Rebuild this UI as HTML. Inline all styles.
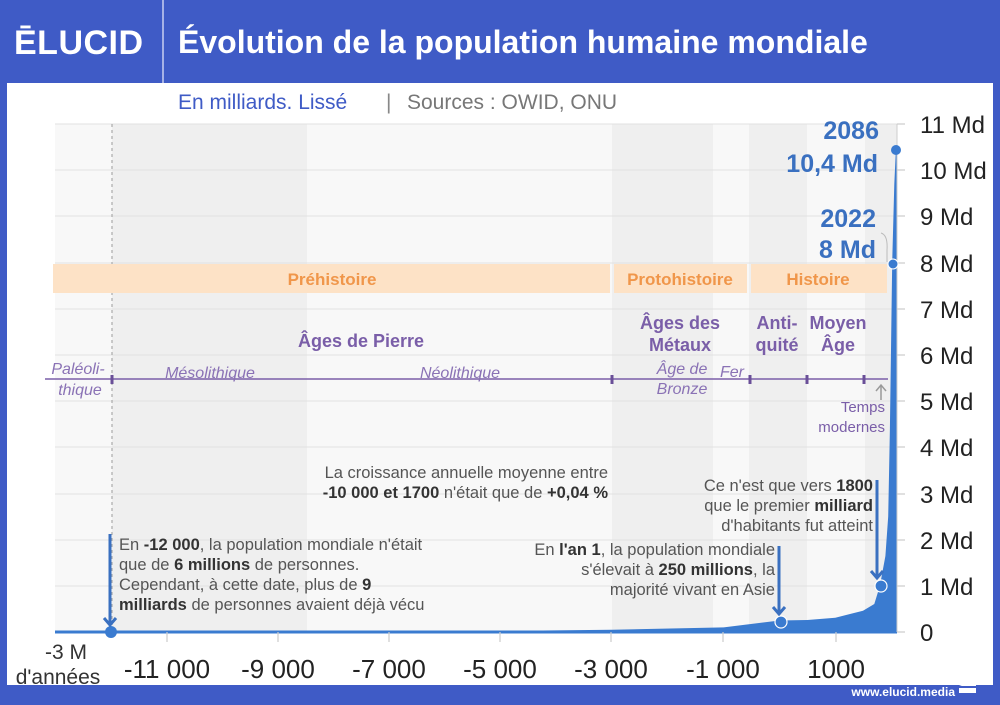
<!DOCTYPE html>
<html><head><meta charset="utf-8"><style>
html,body{margin:0;padding:0;background:#3f5bc6;}
body{width:1000px;height:700px;overflow:hidden;font-family:"Liberation Sans",sans-serif;}
</style></head><body>
<svg width="1000" height="700" viewBox="0 0 1000 700" xmlns="http://www.w3.org/2000/svg" font-family="Liberation Sans, sans-serif">
<rect x="0" y="0" width="1000" height="700" fill="#3f5bc6"/>
<rect x="7" y="83" width="986" height="602" fill="#ffffff"/>
<line x1="163" y1="0" x2="163" y2="83" stroke="#c8d0f0" stroke-width="1.5"/>
<text x="14" y="54" fill="#fff" font-size="34" font-weight="bold" letter-spacing="0.5">ĒLUCID</text>
<text x="178" y="53" fill="#fff" font-size="32" font-weight="bold">Évolution de la population humaine mondiale</text>
<text x="178" y="109" fill="#3f5bc6" font-size="21">En milliards. Lissé</text>
<text x="386" y="109" fill="#888" font-size="21">|</text>
<text x="407" y="109" fill="#777" font-size="21">Sources : OWID, ONU</text>
<!-- bg -->
<rect x="55" y="124" width="842" height="508" fill="#f8f8f8"/>
<rect x="112" y="124" width="195" height="508" fill="#efefef"/>
<rect x="612" y="124" width="101" height="508" fill="#efefef"/>
<rect x="749" y="124" width="58" height="508" fill="#efefef"/>
<rect x="865" y="124" width="32" height="508" fill="#efefef"/>
<g stroke="#e2e2e2" stroke-width="1">
<line x1="55" y1="124" x2="897" y2="124"/><line x1="55" y1="170" x2="897" y2="170"/><line x1="55" y1="216" x2="897" y2="216"/><line x1="55" y1="263" x2="897" y2="263"/><line x1="55" y1="309" x2="897" y2="309"/><line x1="55" y1="355" x2="897" y2="355"/><line x1="55" y1="401" x2="897" y2="401"/><line x1="55" y1="447" x2="897" y2="447"/><line x1="55" y1="494" x2="897" y2="494"/><line x1="55" y1="540" x2="897" y2="540"/><line x1="55" y1="586" x2="897" y2="586"/>
</g>
<line x1="112" y1="124" x2="112" y2="632" stroke="#aaa" stroke-width="1.2" stroke-dasharray="3,3"/>
<!-- orange band -->
<rect x="53" y="264" width="557" height="29" fill="#fde2c6"/>
<rect x="614" y="264" width="133" height="29" fill="#fde2c6"/>
<rect x="751" y="264" width="136" height="29" fill="#fde2c6"/>
<g fill="#f0964a" font-size="17" font-weight="bold" text-anchor="middle">
<text x="332" y="285">Préhistoire</text><text x="680" y="285">Protohistoire</text><text x="818" y="285">Histoire</text></g>
<!-- purple timeline -->
<line x1="45" y1="379" x2="888" y2="379" stroke="#7a5ea8" stroke-width="1.5"/>
<g stroke="#6a4f98" stroke-width="3"><line x1="112" y1="375" x2="112" y2="384"/><line x1="612" y1="375" x2="612" y2="384"/><line x1="750" y1="375" x2="750" y2="384"/><line x1="807" y1="375" x2="807" y2="384"/><line x1="864" y1="375" x2="864" y2="384"/></g>
<g fill="#7a5ea8" font-size="18" font-weight="bold" text-anchor="middle">
<text x="361" y="347">Âges de Pierre</text>
<text x="680" y="329">Âges des</text><text x="680" y="351">Métaux</text>
<text x="777" y="329">Anti-</text><text x="777" y="351">quité</text>
<text x="838" y="329">Moyen</text><text x="838" y="351">Âge</text>
</g>
<g fill="#8a72b5" font-size="16" font-style="italic" text-anchor="middle">
<text x="78" y="374">Paléoli-</text><text x="80" y="395">thique</text>
<text x="210" y="378">Mésolithique</text><text x="460" y="378">Néolithique</text>
<text x="682" y="374">Âge de</text><text x="682" y="394">Bronze</text><text x="732" y="377">Fer</text>
</g>
<g fill="#7a5ea8" font-size="15" text-anchor="end"><text x="885" y="412">Temps</text><text x="885" y="432">modernes</text></g>
<path d="M881 400 L881 386 M876 391 L881 385 L886 391" stroke="#999" stroke-width="1.5" fill="none"/>
<!-- area -->
<path d="M110.5 631.7 L500.8 631 L612 629.7 L723.7 627.4 L779.5 620.5 L807.4 620 L835.3 617.7 L852 613.5 L863 610.7 L874.3 604 L879.9 585.8 L885.4 556 L888.2 516.5 L889.9 428.7 L891 350 L892.2 262.4 L894.3 184 L895.8 151.5 L897 151 L897 632 L55 632 Z" fill="#3a7bd0"/>
<line x1="55" y1="632" x2="897" y2="632" stroke="#3a7bd0" stroke-width="3"/>
<line x1="897" y1="124" x2="897" y2="632" stroke="#ccc" stroke-width="1"/>
<!-- y ticks -->
<g stroke="#ccc" stroke-width="1.2"><line x1="897" y1="124" x2="905" y2="124"/><line x1="897" y1="170" x2="905" y2="170"/><line x1="897" y1="216" x2="905" y2="216"/><line x1="897" y1="263" x2="905" y2="263"/><line x1="897" y1="309" x2="905" y2="309"/><line x1="897" y1="355" x2="905" y2="355"/><line x1="897" y1="401" x2="905" y2="401"/><line x1="897" y1="447" x2="905" y2="447"/><line x1="897" y1="494" x2="905" y2="494"/><line x1="897" y1="540" x2="905" y2="540"/><line x1="897" y1="586" x2="905" y2="586"/><line x1="897" y1="632" x2="905" y2="632"/>
<line x1="167" y1="632" x2="167" y2="642"/><line x1="278" y1="632" x2="278" y2="642"/><line x1="389" y1="632" x2="389" y2="642"/><line x1="500" y1="632" x2="500" y2="642"/><line x1="611" y1="632" x2="611" y2="642"/><line x1="723" y1="632" x2="723" y2="642"/><line x1="836" y1="632" x2="836" y2="642"/></g>
<g fill="#222" font-size="24">
<text x="920" y="133">11 Md</text><text x="920" y="179">10 Md</text><text x="920" y="225">9 Md</text><text x="920" y="272">8 Md</text><text x="920" y="318">7 Md</text><text x="920" y="364">6 Md</text><text x="920" y="410">5 Md</text><text x="920" y="456">4 Md</text><text x="920" y="503">3 Md</text><text x="920" y="549">2 Md</text><text x="920" y="595">1 Md</text><text x="920" y="641">0</text>
</g>
<g fill="#222" font-size="26" text-anchor="middle">
<text x="167" y="678">-11 000</text><text x="278" y="678">-9 000</text><text x="389" y="678">-7 000</text><text x="500" y="678">-5 000</text><text x="611" y="678">-3 000</text><text x="723" y="678">-1 000</text><text x="836" y="678">1000</text>
</g>
<g fill="#333" font-size="21" text-anchor="middle"><text x="66" y="659">-3 M</text><text x="58" y="684">d'années</text></g>
<!-- highlights -->
<g fill="#3a70c0" font-size="25" font-weight="bold" text-anchor="end">
<text x="879" y="139">2086</text><text x="878" y="172">10,4 Md</text>
<text x="876" y="227">2022</text><text x="876" y="258">8 Md</text></g>
<circle cx="896" cy="150" r="5" fill="#3a7bd0"/>
<circle cx="893" cy="264" r="5" fill="#3a7bd0" stroke="#fff" stroke-width="1"/>
<path d="M881 233 Q888 235 887 250 L887 262" stroke="#bbb" stroke-width="1" fill="none"/>
<circle cx="111" cy="632" r="6" fill="#3a7bd0"/>
<circle cx="781" cy="622" r="6" fill="#3a7bd0" stroke="#fff" stroke-width="1.2"/>
<circle cx="881" cy="586" r="6" fill="#3a7bd0" stroke="#fff" stroke-width="1.2"/>
<!-- arrows -->
<g stroke="#3a70c0" stroke-width="3" fill="none">
<path d="M110 534 L110 625 M104 618 L110 625 L116 618"/>
<path d="M779 546 L779 614 M773 607 L779 614 L785 607"/>
<path d="M877 480 L877 578 M871 571 L877 578 L883 571"/>
</g>
<!-- annotations -->
<g fill="#555" font-size="16.5">
<text x="119" y="550">En <tspan font-weight="bold" fill="#333">-12 000</tspan>, la population mondiale n'était</text>
<text x="119" y="570">que de <tspan font-weight="bold" fill="#333">6 millions</tspan> de personnes.</text>
<text x="119" y="590">Cependant, à cette date, plus de <tspan font-weight="bold" fill="#333">9</tspan></text>
<text x="119" y="610"><tspan font-weight="bold" fill="#333">milliards</tspan> de personnes avaient déjà vécu</text>
</g>
<g fill="#555" font-size="16.5" text-anchor="end">
<text x="608" y="478">La croissance annuelle moyenne entre</text>
<text x="608" y="498"><tspan font-weight="bold" fill="#333">-10 000 et 1700</tspan> n'était que de <tspan font-weight="bold" fill="#333">+0,04 %</tspan></text>
<text x="775" y="555">En <tspan font-weight="bold" fill="#333">l'an 1</tspan>, la population mondiale</text>
<text x="775" y="575">s'élevait à <tspan font-weight="bold" fill="#333">250 millions</tspan>, la</text>
<text x="775" y="595">majorité vivant en Asie</text>
<text x="873" y="491">Ce n'est que vers <tspan font-weight="bold" fill="#333">1800</tspan></text>
<text x="873" y="511">que le premier <tspan font-weight="bold" fill="#333">milliard</tspan></text>
<text x="873" y="531">d'habitants fut atteint</text>
</g>
<text x="955" y="696" fill="#fff" font-size="12" font-weight="bold" text-anchor="end">www.elucid.media</text>
<path d="M959 686 L976 680 L976 686 Z M959 688 L976 688 L976 693 L959 693 Z" fill="#fff"/>
</svg>
</body></html>
